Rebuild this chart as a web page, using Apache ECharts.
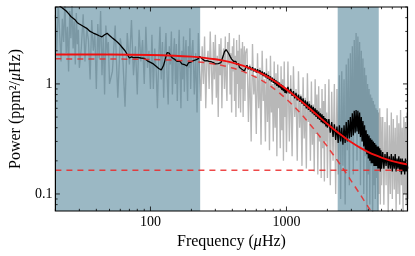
<!DOCTYPE html>
<html><head><meta charset="utf-8">
<script src="https://cdn.jsdelivr.net/npm/echarts@6/dist/echarts.min.js"></script>
<style>html,body{margin:0;padding:0;background:#fff}#c{width:415px;height:256px}</style>
</head><body><div id="c"></div>
<script>
// ---- data ----
const freq = [
  20,20.5,21,21.5,22,22.5,23,23.5,24,24.5,25,25.5,26,26.5,27,27.5,28,28.5,29,29.5,30,
  31,32,33,34,35,36,37,38,39,40,41,42,43,44,45,46,47,48,49,50,
  52.5,55,57.5,60,62.5,65,67.5,70,72.5,75,77.5,80,82.5,85,87.5,90,92.5,95,97.5,100,
  102.5,105,107.5,110,112.5,115,117.5,120,122.5,125,127.5,130,132.5,135,137.5,140,142.5,145,147.5,150,
  152.5,155,157.5,160,162.5,165,167.5,170,172.5,175,177.5,180,182.5,185,187.5,190,192.5,195,197.5,200,
  205,210,215,220,225,230,235,240,245,250,255,260,265,270,275,280,285,290,295,300,
  305,310,315,320,325,330,335,340,345,350,355,360,365,370,375,380,385,390,395,400,
  405,410,415,420,425,430,435,440,445,450,455,460,465,470,475,480,485,490,495,500,
  512.5,525,537.5,550,562.5,575,587.5,600,612.5,625,637.5,650,662.5,675,687.5,700,712.5,725,737.5,750,
  762.5,775,787.5,800,812.5,825,837.5,850,862.5,875,887.5,900,912.5,925,937.5,950,962.5,975,987.5,1000,
  1025,1050,1075,1100,1125,1150,1175,1200,1225,1250,1275,1300,1325,1350,1375,1400,1425,1450,1475,1500,
  1525,1550,1575,1600,1625,1650,1675,1700,1725,1750,1775,1800,1825,1850,1875,1900,1925,1950,1975,2000,
  2050,2100,2150,2200,2250,2300,2350,2400,2450,2500,2550,2600,2650,2700,2750,2800,2850,2900,2950,3000,
  3050,3100,3150,3200,3250,3300,3350,3400,3450,3500,3550,3600,3650,3700,3750,3800,3850,3900,3950,4000,
  4050,4100,4150,4200,4250,4300,4350,4400,4450,4500,4550,4600,4650,4700,4750,4800,4850,4900,4950,5000,
  5100,5200,5300,5400,5500,5600,5700,5800,5900,6000,6100,6200,6300,6400,6500,6600,6700,6800,6900,7000,
  7100,7200,7300,7400,7500,7600,7700,7800
];
const rawPower = [
  4.2,2.0,5.5,2.8,1.6,3.9,2.4,5.8,1.9,3.3,1.3,4.6,2.6,6.0,2.1,3.7,1.5,4.4,2.3,3.1,1.4,
  2.1,4.3,1.6,3.2,2.5,1.1,3.8,2.0,2.9,0.9,3.5,1.7,4.6,1.2,2.7,0.8,3.4,1.9,2.4,1.0,
  1.3,3.4,0.75,2.6,1.8,0.62,2.9,1.5,3.8,1.2,2.2,0.8,3.1,1.6,2.5,1.0,3.3,1.4,2.0,0.9,
  2.8,0.9,2.1,1.4,0.6,1.7,3.3,1.1,2.4,0.75,1.9,2.9,1.2,0.65,2.2,1.5,3.0,0.8,1.8,2.6,
  1.0,2.3,0.7,1.6,3.1,1.3,0.6,2.0,1.1,2.7,0.85,1.9,2.5,1.2,0.7,2.2,1.4,3.2,0.9,1.7,
  2.5,0.8,1.9,0.55,2.9,1.3,0.7,2.2,1.0,2.7,0.6,1.6,2.0,0.9,3.0,1.4,0.65,2.4,1.1,2.8,
  0.75,1.8,0.5,2.3,1.2,2.6,0.6,1.7,2.1,0.9,2.7,1.1,0.7,2.4,1.5,2.9,0.8,1.9,0.55,2.2,
  1.3,2.6,0.7,1.8,0.5,2.5,1.0,2.0,0.6,2.8,1.2,0.55,2.1,0.9,2.4,0.5,1.6,2.2,0.7,1.9,
  2.1,0.45,1.5,0.3,2.3,0.8,1.2,0.35,1.9,0.6,1.4,0.28,2.0,0.7,1.1,0.3,1.7,0.45,1.3,0.25,
  1.8,0.55,1.0,0.3,1.6,0.4,1.25,0.22,1.5,0.6,0.9,0.26,1.45,0.38,1.1,0.2,1.6,0.5,0.85,0.24,
  1.6,0.3,1.2,0.22,1.45,0.5,0.9,0.2,1.3,0.4,0.8,0.18,1.15,0.32,0.75,0.17,1.25,0.45,0.7,0.2,
  1.05,0.28,0.65,0.16,1.1,0.35,0.8,0.15,0.95,0.3,0.6,0.14,0.9,0.26,0.7,0.13,1.0,0.3,0.55,0.14,
  1.1,0.12,0.85,0.2,1.0,0.1,0.9,0.15,1.2,0.09,1.3,0.18,1.1,0.08,1.5,0.25,1.7,0.12,1.9,0.3,
  2.2,0.15,2.5,0.35,2.9,0.2,2.7,0.4,2.4,0.12,2.0,0.3,1.7,0.1,1.4,0.22,1.2,0.07,1.0,0.15,
  0.9,0.08,0.8,0.18,0.75,0.06,0.7,0.12,0.65,0.09,0.6,0.14,0.58,0.07,0.55,0.1,0.6,0.08,0.5,0.12,
  0.5,0.08,0.45,0.12,0.6,0.06,0.42,0.1,0.55,0.09,0.48,0.11,0.4,0.07,0.52,0.1,0.44,0.08,0.58,0.12,
  0.4,0.06,0.5,0.1,0.45,0.08,0.55,0.09
];
const smoothPower = [
  5.4,5.3,5.2,5.1,5.0,4.9,4.8,4.7,4.6,4.45,4.35,4.22,4.1,4.02,3.95,3.88,3.8,3.7,3.6,3.55,3.5,
  3.42,3.34,3.27,3.2,3.1,3.0,2.95,2.9,2.86,2.82,2.78,2.74,2.7,2.68,2.72,2.8,2.9,2.88,2.82,2.76,
  2.62,2.5,2.38,2.25,2.12,2.0,1.85,1.72,1.76,1.73,1.78,1.74,1.77,1.72,1.75,1.71,1.68,1.62,1.6,1.57,
  1.55,1.52,1.48,1.45,1.41,1.38,1.35,1.34,1.38,1.48,1.62,1.78,1.92,1.97,1.9,1.82,1.76,1.72,1.7,1.68,
  1.66,1.64,1.6,1.56,1.58,1.6,1.55,1.52,1.5,1.49,1.5,1.52,1.48,1.46,1.5,1.55,1.57,1.6,1.58,1.6,
  1.62,1.68,1.65,1.72,1.70,1.78,1.74,1.69,1.66,1.62,1.66,1.63,1.67,1.6,1.64,1.59,1.63,1.56,1.6,1.52,
  1.55,1.49,1.53,1.5,1.58,1.56,1.66,1.72,1.85,1.96,2.02,2.05,1.98,2.03,1.9,1.84,1.78,1.72,1.68,1.62,
  1.66,1.6,1.64,1.56,1.6,1.5,1.55,1.48,1.53,1.42,1.47,1.4,1.45,1.36,1.41,1.35,1.39,1.31,1.36,1.33,
  1.48,1.36,1.44,1.33,1.42,1.30,1.38,1.27,1.36,1.26,1.33,1.22,1.30,1.18,1.27,1.15,1.24,1.12,1.2,1.08,
  1.17,1.05,1.14,1.02,1.11,0.99,1.08,0.96,1.05,0.93,1.03,0.91,0.99,0.88,0.97,0.86,0.94,0.83,0.92,0.82,
  0.94,0.82,0.9,0.78,0.86,0.74,0.83,0.71,0.8,0.69,0.77,0.66,0.74,0.63,0.71,0.6,0.69,0.58,0.66,0.56,
  0.64,0.54,0.62,0.52,0.6,0.5,0.58,0.48,0.56,0.47,0.54,0.45,0.53,0.44,0.51,0.43,0.49,0.41,0.48,0.4,
  0.48,0.36,0.45,0.33,0.43,0.31,0.41,0.29,0.42,0.3,0.4,0.28,0.42,0.29,0.45,0.3,0.47,0.32,0.5,0.33,
  0.54,0.34,0.57,0.36,0.58,0.37,0.57,0.35,0.55,0.33,0.5,0.3,0.46,0.27,0.42,0.25,0.38,0.23,0.35,0.21,
  0.34,0.2,0.32,0.19,0.31,0.19,0.3,0.18,0.29,0.18,0.28,0.18,0.27,0.17,0.27,0.17,0.26,0.16,0.25,0.17,
  0.24,0.17,0.23,0.18,0.24,0.17,0.22,0.17,0.23,0.16,0.22,0.17,0.23,0.16,0.21,0.17,0.22,0.16,0.21,0.15,
  0.21,0.16,0.2,0.15,0.21,0.16,0.19,0.17
];
const fitFreq   = [20,50,100,150,200,250,300,350,400,450,500,600,700,800,900,1000,1100,1200,1300,1400,1600,1800,2000,2250,2500,2750,3000,3500,4000,4500,5000,6000,7000,7760];
const fitTotal  = [1.853,1.848,1.832,1.805,1.769,1.725,1.674,1.619,1.559,1.497,1.434,1.309,1.190,1.080,0.980,0.892,0.814,0.746,0.687,0.635,0.550,0.484,0.433,0.384,0.347,0.318,0.295,0.262,0.240,0.225,0.214,0.199,0.190,0.185];
const fitHarvey = [1.689,1.684,1.668,1.641,1.605,1.561,1.510,1.455,1.395,1.333,1.270,1.145,1.026,0.916,0.816,0.728,0.650,0.582,0.523,0.471,0.386,0.320,0.269,0.220,0.183,0.154,0.131,0.098,0.076,0.061,0.050,0.035,0.026,0.021];
const whiteNoise = 0.164;
const shadeRanges = [[20, 232], [2380, 4770]];
const xMajor = [100, 1000];
const xMinor = [20,30,40,50,60,70,80,90,200,300,400,500,600,700,800,900,2000,3000,4000,5000,6000,7000];
const yMajor = [0.1, 1];
const yMinor = [0.08,0.09,0.2,0.3,0.4,0.5,0.6,0.7,0.8,0.9,2,3,4,5];
const X_MIN = 20, X_MAX = 7760, Y_MIN = 0.07, Y_MAX = 5;

const FONT = 'Liberation Serif';
const pairs = (xs, ys) => xs.map((x, i) => [x, ys[i]]);
function isPow10(v){ const l = Math.log10(v); return Math.abs(l - Math.round(l)) < 1e-6; }

const chart = echarts.init(document.getElementById('c'), null, {renderer: 'canvas'});
chart.setOption({
  animation: false,
  grid: {left: 51, right: 7.5, top: 7, bottom: 45},
  xAxis: {
    type: 'log', logBase: 10, min: X_MIN, max: X_MAX,
    axisLine: {show: false}, axisTick: {show: false}, splitLine: {show: false}, minorTick: {show: false},
    axisLabel: {
      color: '#000', fontFamily: FONT, fontSize: 14, margin: 4,
      formatter: v => (isPow10(v) && v > X_MIN && v < X_MAX) ? String(Math.round(v)) : ''
    },
    name: 'Frequency ({i|μ}Hz)', nameLocation: 'middle', nameGap: 21,
    nameTextStyle: {color: '#000', fontFamily: FONT, fontSize: 16,
      rich: {i: {fontStyle: 'italic', fontFamily: FONT, fontSize: 16, color: '#000'}}}
  },
  yAxis: {
    type: 'log', logBase: 10, min: Y_MIN, max: Y_MAX,
    axisLine: {show: false}, axisTick: {show: false}, splitLine: {show: false}, minorTick: {show: false},
    axisLabel: {
      color: '#000', fontFamily: FONT, fontSize: 14, margin: 3,
      formatter: v => (isPow10(v) && v > Y_MIN && v < Y_MAX) ? (v >= 1 ? String(Math.round(v)) : String(Number(v.toPrecision(3)))) : ''
    },
    name: 'Power (ppm²/{i|μ}Hz)', nameLocation: 'middle', nameGap: 27,
    nameTextStyle: {color: '#000', fontFamily: FONT, fontSize: 16,
      rich: {i: {fontStyle: 'italic', fontFamily: FONT, fontSize: 16, color: '#000'}}}
  },
  series: [
    {
      type: 'line', z: 1, data: pairs(freq, rawPower), showSymbol: false, symbol: 'none',
      lineStyle: {color: '#b8b8b8', width: 1.35}, clip: true
    },
    {
      type: 'custom', z: 2, data: shadeRanges, encode: {x: [0, 1]},
      renderItem: (params, api) => {
        const p0 = api.coord([api.value(0), Y_MAX]);
        const p1 = api.coord([api.value(1), Y_MIN]);
        return {type: 'rect', shape: {x: p0[0], y: p0[1], width: p1[0] - p0[0], height: p1[1] - p0[1]},
          style: {fill: 'rgba(73,126,148,0.55)'}};
      }
    },
    {
      type: 'line', z: 3, data: pairs(freq, smoothPower), showSymbol: false, symbol: 'none',
      lineStyle: {color: '#000', width: 1.3}, clip: true
    },
    {
      type: 'line', z: 4, data: pairs(fitFreq, fitHarvey), showSymbol: false, symbol: 'none', smooth: 0.3,
      lineStyle: {color: 'rgba(235,40,40,0.85)', width: 1.5, type: [6, 5]}, clip: true
    },
    {
      type: 'line', z: 4, data: [[X_MIN, whiteNoise], [X_MAX, whiteNoise]], showSymbol: false, symbol: 'none',
      lineStyle: {color: 'rgba(235,40,40,0.85)', width: 1.5, type: [6, 5]}, clip: true
    },
    {
      type: 'line', z: 5, data: pairs(fitFreq, fitTotal), showSymbol: false, symbol: 'none', smooth: 0.3,
      lineStyle: {color: '#f01010', width: 1.9}, clip: true
    },
    {
      type: 'custom', z: 10, data: [[X_MIN, Y_MIN]],
      renderItem: (params, api) => {
        const tl = api.coord([X_MIN, Y_MAX]);
        const br = api.coord([X_MAX, Y_MIN]);
        const kids = [];
        const st = {stroke: '#000', lineWidth: 0.8};
        const addX = (v, len) => {
          const x = api.coord([v, Y_MIN])[0];
          kids.push({type: 'line', shape: {x1: x, y1: br[1], x2: x, y2: br[1] - len}, style: st});
          kids.push({type: 'line', shape: {x1: x, y1: tl[1], x2: x, y2: tl[1] + len}, style: st});
        };
        const addY = (v, len) => {
          const y = api.coord([X_MIN, v])[1];
          kids.push({type: 'line', shape: {x1: tl[0], y1: y, x2: tl[0] + len, y2: y}, style: st});
          kids.push({type: 'line', shape: {x1: br[0], y1: y, x2: br[0] - len, y2: y}, style: st});
        };
        xMajor.forEach(v => addX(v, 4.5)); xMinor.forEach(v => addX(v, 2.2));
        yMajor.forEach(v => addY(v, 4.5)); yMinor.forEach(v => addY(v, 2.2));
        kids.push({type: 'rect', shape: {x: tl[0], y: tl[1], width: br[0] - tl[0], height: br[1] - tl[1]},
          style: {fill: null, stroke: '#000', lineWidth: 1.2}});
        return {type: 'group', children: kids};
      }
    }
  ]
});
</script>
</body></html>
